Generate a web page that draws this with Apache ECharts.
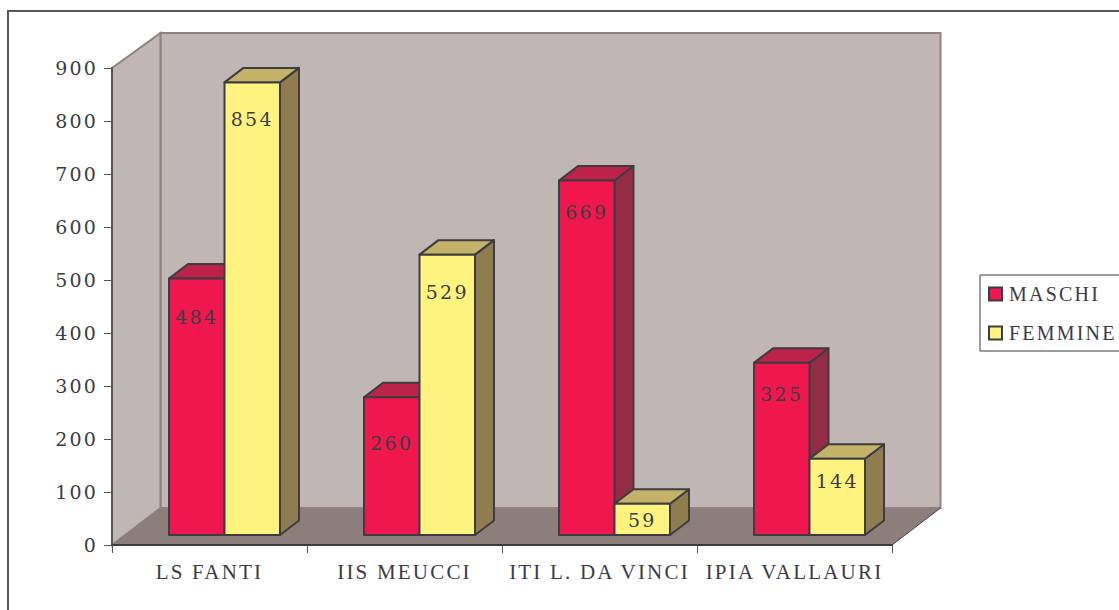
<!DOCTYPE html>
<html>
<head>
<meta charset="utf-8">
<title>Alunni</title>
<script src="https://cdn.jsdelivr.net/npm/echarts@6/dist/echarts.min.js"></script>
<style>
  html, body { margin: 0; padding: 0; background: #fff; overflow: hidden; }
  #frame { position: absolute; left: 7px; top: 10px; width: 1200px; height: 700px; border: 2px solid #5a5a5e; }
  #chart { position: absolute; left: 0; top: 0; width: 1119px; height: 610px; }
  #chart text { letter-spacing: 2.2px; }
</style>
</head>
<body>
<div id="frame"></div>
<div id="chart"></div>
<script>
const categories = ['LS FANTI', 'IIS MEUCCI', 'ITI L. DA VINCI', 'IPIA VALLAURI'];
const maschi = [484, 260, 669, 325];
const femmine = [854, 529, 59, 144];

// how far below the top of each bar the number sits, px
const maschiDrop = [39, 46, 32, 31];
const femmineDrop = [37, 37, 16, 22];

const ink = '#3c3c42';
const serif = '"Liberation Serif", serif';
const digits = '"DejaVu Serif", serif';
const barW = 55.5;
// bars stand a little behind the axis plane
const frontDx = 15, frontDy = -10;
// depth of a bar
const depthDx = 19, depthDy = -14.5;
// depth of the floor / side wall
const wallDx = 48.5, wallDy = -37, wallTopDy = -35;

function renderWalls(params, api) {
  const g = params.coordSys;
  const l = g.x, r = g.x + g.width, t = g.y, b = g.y + g.height;
  const wallStyle = { fill: '#c0b6b3', stroke: '#8f8280', lineWidth: 2 };
  return {
    type: 'group',
    children: [
      { type: 'polygon', shape: { points: [[l + wallDx, t + wallTopDy], [r + wallDx, t + wallTopDy], [r + wallDx, b + wallDy], [l + wallDx, b + wallDy]] }, style: wallStyle },
      { type: 'polygon', shape: { points: [[l, t], [l + wallDx, t + wallTopDy], [l + wallDx, b + wallDy], [l, b]] }, style: wallStyle },
      { type: 'polygon', shape: { points: [[l, b], [l + wallDx, b + wallDy], [r + wallDx, b + wallDy], [r, b]] }, style: { fill: '#8c7e7a' } },
      { type: 'line', shape: { x1: r, y1: b, x2: r + wallDx, y2: b + wallDy }, style: { stroke: '#4a4546', lineWidth: 1 } }
    ]
  };
}

function barRenderer(side, colors, drops) {
  return function (params, api) {
    const i = api.value(0);
    const top = api.coord([i, api.value(1)]);
    const zero = api.coord([i, 0]);
    const x0 = top[0] + frontDx + (side < 0 ? -barW : 0);
    const x1 = x0 + barW;
    const y0 = top[1] + frontDy;
    const y1 = zero[1] + frontDy;
    const edge = { stroke: ink, lineWidth: 2, lineJoin: 'round' };
    return {
      type: 'group',
      children: [
        { type: 'polygon', shape: { points: [[x1, y0], [x1 + depthDx, y0 + depthDy], [x1 + depthDx, y1 + depthDy], [x1, y1]] }, style: Object.assign({ fill: colors.side }, edge) },
        { type: 'polygon', shape: { points: [[x0, y0], [x0 + depthDx, y0 + depthDy], [x1 + depthDx, y0 + depthDy], [x1, y0]] }, style: Object.assign({ fill: colors.top }, edge) },
        { type: 'rect', shape: { x: x0, y: y0, width: barW, height: y1 - y0 }, style: Object.assign({ fill: colors.front }, edge) },
        { type: 'text', x: (x0 + x1) / 2, y: y0 + drops[params.dataIndex], style: { text: String(api.value(1)), fill: ink, font: '19px ' + digits, align: 'center', verticalAlign: 'middle' } }
      ]
    };
  };
}

const red = { front: '#f0174f', top: '#bd2248', side: '#952c45' };
const yellow = { front: '#fff380', top: '#c4b268', side: '#8f7d50' };

const chart = echarts.init(document.getElementById('chart'), null, { renderer: 'svg' });
chart.setOption({
  animation: false,
  backgroundColor: 'transparent',
  grid: { left: 112, right: 227, top: 68, bottom: 65 },
  legend: {
    left: 980, top: 275,
    orient: 'vertical',
    data: ['MASCHI', 'FEMMINE'],
    icon: 'rect',
    itemWidth: 13, itemHeight: 13, itemGap: 19,
    padding: [9, 30, 8, 8],
    borderColor: ink, borderWidth: 1, backgroundColor: '#fff',
    selectedMode: false,
    textStyle: { fontFamily: serif, fontSize: 20, color: ink, padding: [0, 0, 0, 2] }
  },
  xAxis: {
    type: 'category',
    data: categories,
    z: 1,
    axisLine: { lineStyle: { color: ink, width: 2 } },
    axisTick: { show: true, interval: 0, length: 8, lineStyle: { color: '#55555a', width: 1 } },
    axisLabel: { interval: 0, fontFamily: serif, fontSize: 21, color: ink, margin: 16 },
    splitLine: { show: false }
  },
  yAxis: {
    type: 'value',
    min: 0, max: 900, interval: 100,
    z: 1,
    axisLine: { show: true, lineStyle: { color: '#55555a', width: 2 } },
    axisTick: { show: true, length: 8, lineStyle: { color: '#55555a', width: 1 } },
    axisLabel: { fontFamily: digits, fontSize: 19, color: ink, margin: 14 },
    splitLine: { show: false }
  },
  series: [
    { type: 'custom', name: 'walls', z: 0, silent: true, renderItem: renderWalls, data: [[0, 0]], encode: { x: 0, y: 1 } },
    { type: 'custom', name: 'MASCHI', z: 2, renderItem: barRenderer(-1, red, maschiDrop), data: maschi.map(function (v, i) { return [i, v]; }), encode: { x: 0, y: 1 }, itemStyle: { color: red.front, borderColor: ink, borderWidth: 2 } },
    { type: 'custom', name: 'FEMMINE', z: 3, renderItem: barRenderer(1, yellow, femmineDrop), data: femmine.map(function (v, i) { return [i, v]; }), encode: { x: 0, y: 1 }, itemStyle: { color: yellow.front, borderColor: ink, borderWidth: 2 } }
  ]
});
</script>
</body>
</html>
